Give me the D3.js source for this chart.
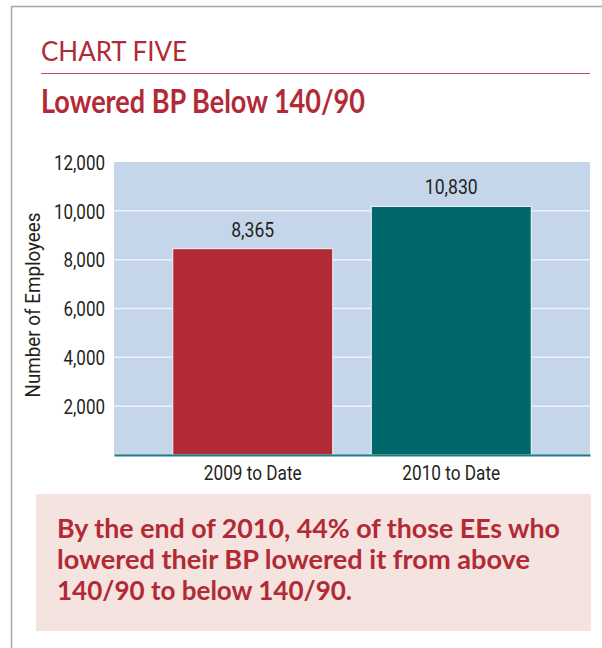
<!DOCTYPE html>
<html>
<head>
<meta charset="utf-8">
<script src="https://cdn.jsdelivr.net/npm/d3@7"></script>
<style>
  body { margin: 0; background: #fff; }
  svg { display: block; }
</style>
</head>
<body>
<div id="chart-area"></div>
<script>
const categories = ["2009 to Date", "2010 to Date"]
// bar heights; printed labels are kept as shown
const barValues = [8450, 10180]
const valueLabels = ["8,365", "10,830"]
const yTicks = [2000, 4000, 6000, 8000, 10000, 12000]
const noteLines = [
  "By the end of 2010, 44% of those EEs who",
  "lowered their BP lowered it from above",
  "140/90 to below 140/90."
]

const W = 602, H = 648
const PLOT = { LEFT: 114, RIGHT: 590, TOP: 162, BOTTOM: 455 }
const RED = "#b22a35"
const TEAL = "#00686a"
const INK = "#231f20"
const NARROW = "Roboto, 'Liberation Sans', sans-serif"
const SANS = "Lato, 'Open Sans', sans-serif"

// squeeze text horizontally to mimic a condensed face
function condense(sel, factor) {
  sel.each(function () {
    const len = this.getComputedTextLength()
    d3.select(this)
      .attr("textLength", len * factor)
      .attr("lengthAdjust", "spacingAndGlyphs")
  })
}

const svg = d3.select("#chart-area").append("svg")
  .attr("width", W)
  .attr("height", H)

// page frame
svg.append("line")
  .attr("x1", 11).attr("x2", W).attr("y1", 6.5).attr("y2", 6.5)
  .attr("stroke", "#a8a8a8").attr("stroke-width", 1.5)
svg.append("line")
  .attr("x1", 11.5).attr("x2", 11.5).attr("y1", 6).attr("y2", H)
  .attr("stroke", "#a8a8a8").attr("stroke-width", 1.5)

// headings
svg.append("text")
  .attr("x", 41).attr("y", 61)
  .attr("font-family", SANS)
  .attr("font-size", "27px")
  .attr("fill", RED)
  .attr("textLength", 146)
  .attr("lengthAdjust", "spacingAndGlyphs")
  .text("CHART FIVE")

svg.append("line")
  .attr("x1", 41).attr("x2", 590).attr("y1", 73.5).attr("y2", 73.5)
  .attr("stroke", "#c24a55").attr("stroke-width", 1.2)

svg.append("text")
  .attr("x", 41).attr("y", 113)
  .attr("font-family", SANS)
  .attr("font-weight", "bold")
  .attr("font-size", "32px")
  .attr("fill", RED)
  .attr("textLength", 324)
  .attr("lengthAdjust", "spacingAndGlyphs")
  .text("Lowered BP Below 140/90")

// scales
const x = d3.scaleBand()
  .domain(categories)
  .range([PLOT.LEFT, PLOT.RIGHT])
  .paddingInner(0.194)
  .paddingOuter(0.296)

const y = d3.scaleLinear()
  .domain([0, 12000])
  .range([PLOT.BOTTOM, PLOT.TOP])

// plot background
svg.append("rect")
  .attr("x", PLOT.LEFT).attr("y", PLOT.TOP)
  .attr("width", PLOT.RIGHT - PLOT.LEFT)
  .attr("height", PLOT.BOTTOM - PLOT.TOP)
  .attr("fill", "#c5d6ea")

// gridlines
svg.append("g")
  .selectAll("line")
  .data(yTicks.slice(0, -1))
  .join("line")
    .attr("x1", PLOT.LEFT).attr("x2", PLOT.RIGHT)
    .attr("y1", d => y(d)).attr("y2", d => y(d))
    .attr("stroke", "#eef3f9").attr("stroke-width", 1.5)

// y axis (labels only)
const yAxisCall = d3.axisLeft(y)
  .tickValues(yTicks)
  .tickSize(0)
  .tickPadding(9)
  .tickFormat(d3.format(","))
const yAxisGroup = svg.append("g")
  .attr("transform", `translate(${PLOT.LEFT}, 0)`)
  .call(yAxisCall)
yAxisGroup.select(".domain").remove()
yAxisGroup.selectAll("text")
  .attr("font-family", NARROW)
  .attr("font-size", "20px")
  .attr("fill", INK)
  .attr("dy", "0.36em")
  .call(condense, 0.85)

// y label
svg.append("text")
  .attr("transform", "rotate(-90)")
  .attr("x", -305).attr("y", 40)
  .attr("text-anchor", "middle")
  .attr("font-family", NARROW)
  .attr("font-size", "20px")
  .attr("fill", INK)
  .attr("textLength", 185)
  .attr("lengthAdjust", "spacingAndGlyphs")
  .text("Number of Employees")

// bars
svg.append("g")
  .selectAll("rect")
  .data(categories)
  .join("rect")
    .attr("x", d => x(d))
    .attr("y", (d, i) => y(barValues[i]))
    .attr("width", x.bandwidth())
    .attr("height", (d, i) => y(0) - y(barValues[i]))
    .attr("fill", (d, i) => i === 0 ? RED : TEAL)
    .attr("stroke", "#f4f7fb")
    .attr("stroke-width", 1)

// value labels
svg.append("g")
  .selectAll("text")
  .data(categories)
  .join("text")
    .attr("x", d => x(d) + x.bandwidth() / 2)
    .attr("y", (d, i) => y(barValues[i]) - 12)
    .attr("text-anchor", "middle")
    .attr("font-family", NARROW)
    .attr("font-size", "20px")
    .attr("fill", INK)
    .text((d, i) => valueLabels[i])
    .call(condense, 0.88)

// x axis
const xAxisCall = d3.axisBottom(x).tickSize(0).tickPadding(11)
const xAxisGroup = svg.append("g")
  .attr("transform", `translate(0, ${PLOT.BOTTOM})`)
  .call(xAxisCall)
xAxisGroup.select(".domain")
  .attr("stroke", "#1d7f86").attr("stroke-width", 2.2)
xAxisGroup.selectAll("text")
  .attr("font-family", NARROW)
  .attr("font-size", "20px")
  .attr("fill", INK)
  .call(condense, 0.86)

// note box
svg.append("rect")
  .attr("x", 36).attr("y", 494)
  .attr("width", 555).attr("height", 137)
  .attr("fill", "#f4e3df")

const noteWidths = [503, 473, 295]
svg.append("g")
  .selectAll("text")
  .data(noteLines)
  .join("text")
    .attr("x", 57)
    .attr("y", (d, i) => 538 + i * 31)
    .attr("font-family", SANS)
    .attr("font-weight", "bold")
    .attr("font-size", "26px")
    .attr("fill", RED)
    .attr("textLength", (d, i) => noteWidths[i])
    .attr("lengthAdjust", "spacingAndGlyphs")
    .text(d => d)
</script>
</body>
</html>
